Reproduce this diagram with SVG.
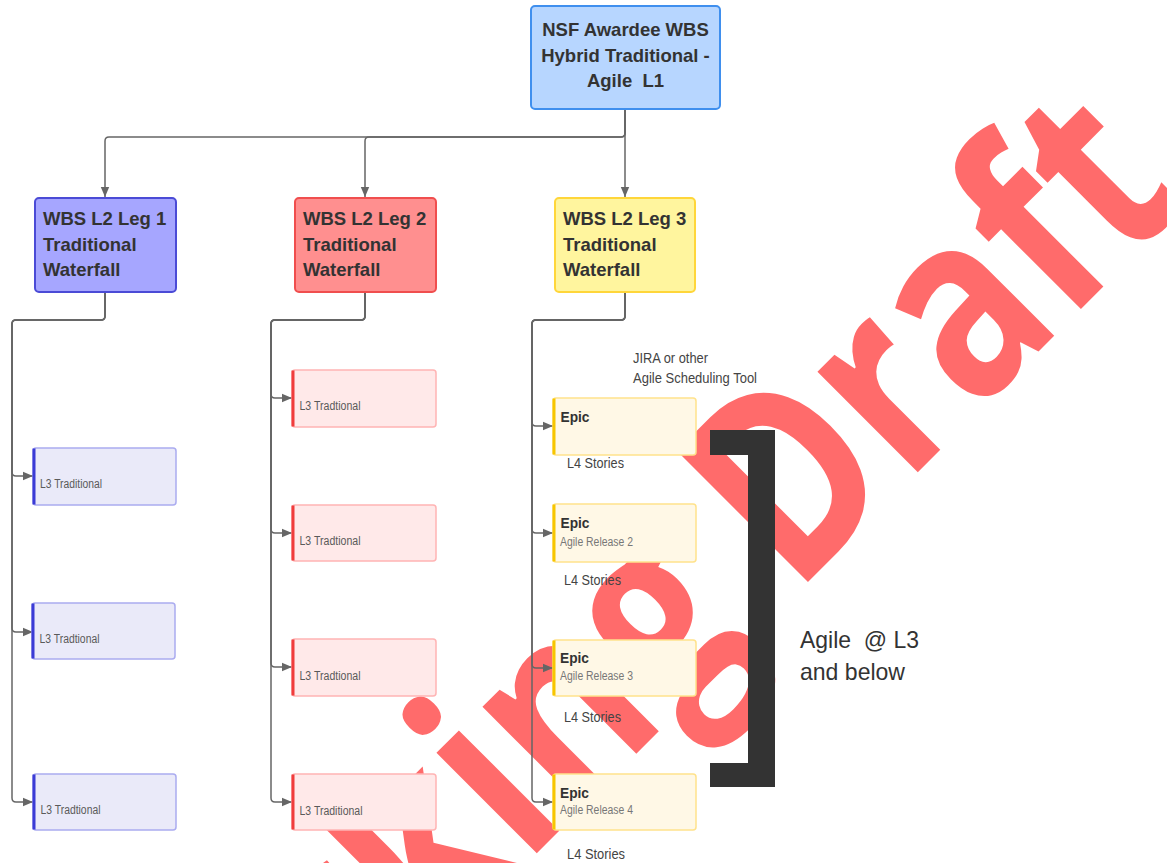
<svg xmlns="http://www.w3.org/2000/svg" width="1167" height="863" viewBox="0 0 1167 863">
<defs>
<marker id="arr" markerUnits="userSpaceOnUse" markerWidth="10" markerHeight="10" viewBox="0 0 10 10" refX="10" refY="5" orient="auto">
<path d="M0,0.8 L10,5 L0,9.2 Z" fill="#666"/>
</marker>
<style>
.big{font-family:"Liberation Sans",Arial,sans-serif;font-weight:700;font-size:18.5px;fill:#333}
.sm{font-family:"Liberation Sans",Arial,sans-serif;font-size:12px;fill:#5a5a5a}
.epic{font-family:"Liberation Sans",Arial,sans-serif;font-weight:700;font-size:15px;fill:#333}
.rel{font-family:"Liberation Sans",Arial,sans-serif;font-size:12px;fill:#777}
.story{font-family:"Liberation Sans",Arial,sans-serif;font-size:14px;fill:#444}
.note{font-family:"Liberation Sans",Arial,sans-serif;font-size:14px;fill:#444}
.lab{font-family:"Liberation Sans",Arial,sans-serif;font-size:24px;fill:#333}
.con{fill:none;stroke:#666;stroke-width:1.5;marker-end:url(#arr)}
.b3{fill:#eaeaf9;stroke:#abacf0;stroke-width:1.5}
.r3{fill:#ffe9e9;stroke:#ffb4b4;stroke-width:1.5}
.e3{fill:#fff8e6;stroke:#ffe28c;stroke-width:1.5}
</style>
</defs>
<rect width="1167" height="863" fill="#fff"/>
<g id="watermark">
<text transform="translate(124,1266) rotate(-45) scale(0.82,1)" font-family="Open Sans" font-weight="700" font-size="260" fill="#ff6b6b">Working Draft</text>
</g>
<g id="connectors">
<path class="con" d="M625,109 V197"/>
<path class="con" d="M625,109 V133 Q625,137 621,137 H369 Q365,137 365,141 V197"/>
<path class="con" d="M625,109 V133 Q625,137 621,137 H109 Q105,137 105,141 V197"/>
<path class="con" d="M105,292 V316 Q105,320 101,320 H16 Q12,320 12,324 V472 Q12,476 16,476 H33"/>
<path class="con" d="M105,292 V316 Q105,320 101,320 H16 Q12,320 12,324 V628 Q12,632 16,632 H33"/>
<path class="con" d="M105,292 V316 Q105,320 101,320 H16 Q12,320 12,324 V798 Q12,802 16,802 H33"/>
<path class="con" d="M365,292 V316 Q365,320 361,320 H275 Q271,320 271,324 V394 Q271,398 275,398 H292"/>
<path class="con" d="M365,292 V316 Q365,320 361,320 H275 Q271,320 271,324 V529 Q271,533 275,533 H292"/>
<path class="con" d="M365,292 V316 Q365,320 361,320 H275 Q271,320 271,324 V663 Q271,667 275,667 H292"/>
<path class="con" d="M365,292 V316 Q365,320 361,320 H275 Q271,320 271,324 V798 Q271,802 275,802 H292"/>
<path class="con" d="M625,292 V316 Q625,320 621,320 H536 Q532,320 532,324 V422 Q532,426 536,426 H553"/>
<path class="con" d="M625,292 V316 Q625,320 621,320 H536 Q532,320 532,324 V529 Q532,533 536,533 H553"/>
<path class="con" d="M625,292 V316 Q625,320 621,320 H536 Q532,320 532,324 V664 Q532,668 536,668 H553"/>
<path class="con" d="M625,292 V316 Q625,320 621,320 H536 Q532,320 532,324 V798 Q532,802 536,802 H553"/>
</g>
<g id="n-root">
<rect x="531" y="6" width="189" height="103" rx="4" fill="#b7d6ff" stroke="#3f8fee" stroke-width="2"/>
<text class="big" x="625.5" y="36" text-anchor="middle">NSF Awardee WBS</text>
<text class="big" x="625.5" y="61.5" text-anchor="middle">Hybrid Traditional -</text>
<text class="big" x="625.5" y="87" text-anchor="middle" xml:space="preserve">Agile  L1</text>
</g>
<g id="n-leg1">
<rect x="35" y="198" width="141" height="94" rx="4" fill="#a6a6ff" stroke="#4b4bd6" stroke-width="2"/>
<text class="big" x="43" y="225">WBS L2 Leg 1</text>
<text class="big" x="43" y="251">Traditional</text>
<text class="big" x="43" y="276">Waterfall</text>
</g>
<g id="n-leg2">
<rect x="295" y="198" width="141" height="94" rx="4" fill="#ff8f8f" stroke="#f04e4e" stroke-width="2"/>
<text class="big" x="303" y="225">WBS L2 Leg 2</text>
<text class="big" x="303" y="251">Traditional</text>
<text class="big" x="303" y="276">Waterfall</text>
</g>
<g id="n-leg3">
<rect x="555" y="198" width="140" height="94" rx="4" fill="#fff59e" stroke="#ffd63a" stroke-width="2"/>
<text class="big" x="563" y="225">WBS L2 Leg 3</text>
<text class="big" x="563" y="251">Traditional</text>
<text class="big" x="563" y="276">Waterfall</text>
</g>
<g id="n-l1a">
<rect class="b3" x="33" y="448" width="143" height="57" rx="3"/>
<rect x="32.5" y="448.5" width="3" height="56" fill="#3b3bd6"/>
<text class="sm" x="40" y="488" textLength="62" lengthAdjust="spacingAndGlyphs">L3 Traditional</text>
</g>
<g id="n-l1b">
<rect class="b3" x="32" y="603" width="143" height="56" rx="3"/>
<rect x="31.5" y="603.5" width="3" height="55" fill="#3b3bd6"/>
<text class="sm" x="39.5" y="643" textLength="60" lengthAdjust="spacingAndGlyphs">L3 Tradtional</text>
</g>
<g id="n-l1c">
<rect class="b3" x="33" y="774" width="143" height="56" rx="3"/>
<rect x="32.5" y="774.5" width="3" height="55" fill="#3b3bd6"/>
<text class="sm" x="40.5" y="814" textLength="60" lengthAdjust="spacingAndGlyphs">L3 Tradtional</text>
</g>
<g id="n-l2a">
<rect class="r3" x="292" y="370" width="144" height="57" rx="3"/>
<rect x="291.5" y="370.5" width="3" height="56" fill="#f03c3c"/>
<text class="sm" x="299.5" y="410" textLength="61" lengthAdjust="spacingAndGlyphs">L3 Tradtional</text>
</g>
<g id="n-l2b">
<rect class="r3" x="292" y="505" width="144" height="56" rx="3"/>
<rect x="291.5" y="505.5" width="3" height="55" fill="#f03c3c"/>
<text class="sm" x="299.5" y="545" textLength="61" lengthAdjust="spacingAndGlyphs">L3 Tradtional</text>
</g>
<g id="n-l2c">
<rect class="r3" x="292" y="639" width="144" height="57" rx="3"/>
<rect x="291.5" y="639.5" width="3" height="56" fill="#f03c3c"/>
<text class="sm" x="299.5" y="680" textLength="61" lengthAdjust="spacingAndGlyphs">L3 Tradtional</text>
</g>
<g id="n-l2d">
<rect class="r3" x="292" y="774" width="144" height="56" rx="3"/>
<rect x="291.5" y="774.5" width="3" height="55" fill="#f03c3c"/>
<text class="sm" x="299.5" y="815" textLength="63" lengthAdjust="spacingAndGlyphs">L3 Traditional</text>
</g>
<g id="n-note">
<text class="note" x="633" y="363" textLength="75" lengthAdjust="spacingAndGlyphs">JIRA or other</text>
<text class="note" x="633" y="383" textLength="124" lengthAdjust="spacingAndGlyphs">Agile Scheduling Tool</text>
</g>
<g id="n-epic1">
<rect class="e3" x="553" y="398" width="143" height="57" rx="3"/>
<rect x="552.5" y="398.5" width="3" height="56" fill="#f7c600"/>
<text class="epic" x="560.5" y="422" textLength="29" lengthAdjust="spacingAndGlyphs">Epic</text>
<text class="story" x="567" y="468" textLength="57" lengthAdjust="spacingAndGlyphs">L4 Stories</text>
</g>
<g id="n-epic2">
<rect class="e3" x="553" y="504" width="143" height="58" rx="3"/>
<rect x="552.5" y="504.5" width="3" height="57" fill="#f7c600"/>
<text class="epic" x="560.5" y="528" textLength="29" lengthAdjust="spacingAndGlyphs">Epic</text>
<text class="rel" x="560" y="546" textLength="73" lengthAdjust="spacingAndGlyphs">Agile Release 2</text>
<text class="story" x="564" y="585" textLength="57" lengthAdjust="spacingAndGlyphs">L4 Stories</text>
</g>
<g id="n-epic3">
<rect class="e3" x="553" y="640" width="143" height="56" rx="3"/>
<rect x="552.5" y="640.5" width="3" height="55" fill="#f7c600"/>
<text class="epic" x="560" y="663" textLength="29" lengthAdjust="spacingAndGlyphs">Epic</text>
<text class="rel" x="560" y="680" textLength="73" lengthAdjust="spacingAndGlyphs">Agile Release 3</text>
<text class="story" x="564" y="722" textLength="57" lengthAdjust="spacingAndGlyphs">L4 Stories</text>
</g>
<g id="n-epic4">
<rect class="e3" x="553" y="774" width="143" height="56" rx="3"/>
<rect x="552.5" y="774.5" width="3" height="55" fill="#f7c600"/>
<text class="epic" x="560" y="798" textLength="29" lengthAdjust="spacingAndGlyphs">Epic</text>
<text class="rel" x="560" y="814" textLength="73" lengthAdjust="spacingAndGlyphs">Agile Release 4</text>
<text class="story" x="567" y="859" textLength="58" lengthAdjust="spacingAndGlyphs">L4 Stories</text>
</g>
<g id="n-bracket">
<path d="M710,430 H775 V787 H710 V763 H748 V455 H710 Z" fill="#333"/>
<text class="lab" x="800" y="648" textLength="119" lengthAdjust="spacingAndGlyphs" xml:space="preserve">Agile  @ L3</text>
<text class="lab" x="800" y="680" textLength="105" lengthAdjust="spacingAndGlyphs">and below</text>
</g>
</svg>
